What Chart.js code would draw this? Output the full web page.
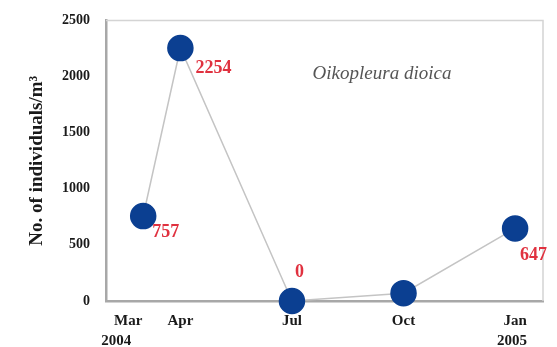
<!DOCTYPE html>
<html>
<head>
<meta charset="utf-8">
<script src="https://cdn.jsdelivr.net/npm/chart.js@4.4.1/dist/chart.umd.min.js"></script>
<style>
  html, body { margin: 0; padding: 0; background: #ffffff; }
  #wrap { width: 557px; height: 347px; position: relative; }
</style>
</head>
<body>
<div id="wrap"><canvas id="c"></canvas></div>
<script>
// Sampling months, counted from March 2004
const months = [0, 1, 4, 7, 10];
const monthLabels = [["Mar", "2004"], ["Apr"], ["Jul"], ["Oct"], ["Jan", "2005"]];
// Abundance (individuals per cubic metre)
const abundance = [757, 2254, 0, 70, 647];
// Value labels printed beside the markers
const valueLabels = ["757", "2254", "0", "", "647"];
const yTicks = [0, 500, 1000, 1500, 2000, 2500];

const serif = "'Liberation Serif', 'Times New Roman', serif";

// Where each value label sits relative to its marker (px)
const labelShift = [[9, 16], [15, 20], [3, -29], [0, 0], [5, 27]];
// Horizontal nudge of each month label line from its tick (px)
const monthNudge = [[-15, -27], [0], [0], [0], [0, -3]];

const valueLabelPlugin = {
  id: 'valueLabels',
  afterDatasetsDraw(chart) {
    const ctx = chart.ctx;
    const meta = chart.getDatasetMeta(0);
    ctx.save();
    ctx.font = "bold 18px " + serif;
    ctx.fillStyle = '#e0313f';
    ctx.textAlign = 'left';
    ctx.textBaseline = 'middle';
    meta.data.forEach((pt, i) => {
      const t = valueLabels[i];
      if (!t) return;
      ctx.fillText(t, pt.x + labelShift[i][0], pt.y + labelShift[i][1]);
    });
    // species name
    const a = chart.chartArea;
    ctx.font = "italic 19px " + serif;
    ctx.fillStyle = '#555555';
    ctx.textAlign = 'center';
    ctx.fillText('Oikopleura dioica', 382, a.top + 54);

    // month labels under the x axis
    const xs = chart.scales.x;
    ctx.font = "bold 15px " + serif;
    ctx.fillStyle = '#1a1a1a';
    ctx.textAlign = 'center';
    months.forEach((m, i) => {
      const x = xs.getPixelForValue(m);
      monthLabels[i].forEach((line, j) => {
        ctx.fillText(line, x + monthNudge[i][j], a.bottom + 20 + j * 20);
      });
    });
    ctx.restore();
  }
};

// Light frame on the top and right sides of the plot area
const framePlugin = {
  id: 'frame',
  beforeDatasetsDraw(chart) {
    const a = chart.chartArea;
    const ctx = chart.ctx;
    ctx.save();
    ctx.strokeStyle = '#d4d4d4';
    ctx.lineWidth = 1.5;
    ctx.beginPath();
    ctx.moveTo(a.left, a.top);
    ctx.lineTo(a.right, a.top);
    ctx.lineTo(a.right, a.bottom);
    ctx.stroke();
    ctx.restore();
  }
};

new Chart(document.getElementById('c'), {
  type: 'line',
  data: {
    datasets: [{
      data: months.map((m, i) => ({ x: m, y: abundance[i] })),
      borderColor: '#c4c4c4',
      borderWidth: 1.5,
      pointBackgroundColor: '#0b3f91',
      pointBorderColor: '#0b3f91',
      pointRadius: 12.5,
      pointHoverRadius: 12.5,
      tension: 0,
      clip: false
    }]
  },
  options: {
    responsive: true,
    maintainAspectRatio: false,
    animation: false,
    layout: { padding: { top: 16, right: 7, left: 26, bottom: 0 } },
    plugins: { legend: { display: false }, tooltip: { enabled: false } },
    scales: {
      x: {
        type: 'linear',
        min: -1,
        max: 10.75,
        afterBuildTicks(scale) { scale.ticks = months.map(v => ({ value: v })); },
        afterFit(scale) { scale.height = 46; },
        grid: { display: false, drawTicks: false },
        border: { display: true, color: '#a8a8a8', width: 2.5 },
        ticks: { display: false }
      },
      y: {
        min: 0,
        max: 2500,
        afterBuildTicks(scale) { scale.ticks = yTicks.map(v => ({ value: v })); },
        afterFit(scale) { scale.width = 80; },
        grid: { display: false, drawTicks: true, tickLength: 4, tickColor: '#b0b0b0' },
        border: { display: true, color: '#a8a8a8', width: 2.5 },
        ticks: {
          padding: 12,
          color: '#1a1a1a',
          font: { family: serif, size: 14, weight: 'bold' },
          callback(v) { return String(v); }
        },
        title: {
          display: true,
          text: 'No. of individuals/m³',
          color: '#1a1a1a',
          padding: { top: 0, bottom: 0 },
          font: { family: serif, size: 19, weight: 'bold' }
        }
      }
    }
  },
  plugins: [framePlugin, valueLabelPlugin]
});
</script>
</body>
</html>
